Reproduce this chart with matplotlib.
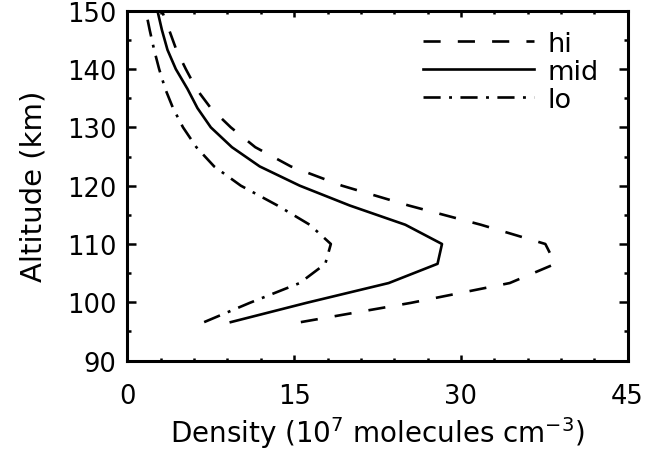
import matplotlib
matplotlib.use("Agg")
import matplotlib.pyplot as plt
from matplotlib.ticker import MultipleLocator

altitude = [96.6, 99.9, 103.3, 106.6, 110.0, 113.3, 116.6, 120.0, 123.3,
            126.6, 130.0, 133.3, 136.6, 140.0, 143.3, 146.7, 150.0]
dens_hi = [15.6, 25.5, 34.4, 38.5, 37.6, 31.8, 25.3, 19.3, 14.7,
           11.5, 9.3, 7.5, 6.2, 5.25, 4.4, 3.75, 3.1]
dens_mid = [9.3, 16.1, 23.5, 27.9, 28.3, 25.0, 20.0, 15.5, 11.9,
            9.4, 7.5, 6.3, 5.4, 4.35, 3.6, 3.1, 2.7]
dens_lo = [6.9, 11.0, 15.5, 17.8, 18.3, 16.4, 13.5, 10.2, 7.8,
           6.2, 5.0, 4.1, 3.4, 2.85, 2.4, 2.0, 1.65]
labels = ["hi", "mid", "lo"]

plt.rcParams['font.family'] = ['DejaVu Sans']
fig = plt.figure(figsize=(6.47, 4.52), dpi=100)
ax = fig.add_axes([0.197, 0.200, 0.773, 0.774])

lw = 1.9
ax.plot(dens_hi, altitude, color='black', lw=lw, linestyle=(0, (6.5, 6.5)), label=labels[0])
ax.plot(dens_mid, altitude, color='black', lw=lw, linestyle='-', label=labels[1])
ax.plot(dens_lo, altitude, color='black', lw=lw, linestyle=(0, (6.5, 3.2, 1.1, 3.2)), label=labels[2])

ax.set_xlim(0, 45)
ax.set_ylim(90, 150)
ax.xaxis.set_major_locator(MultipleLocator(15))
ax.xaxis.set_minor_locator(MultipleLocator(3))
ax.yaxis.set_major_locator(MultipleLocator(10))
ax.yaxis.set_minor_locator(MultipleLocator(5))

for s in ax.spines.values():
    s.set_linewidth(2.2)
ax.tick_params(axis='both', which='both', direction='in', top=True, right=True, width=1.8, labelsize=18.5)
ax.tick_params(axis='y', which='major', length=6.5, pad=8)
ax.tick_params(axis='y', which='minor', length=3.2)
ax.tick_params(axis='x', which='major', length=4.3, pad=16)
ax.tick_params(axis='x', which='minor', length=2.2)

ax.set_xlabel(r'Density (10$^7$ molecules cm$^{-3}$)', fontsize=20, labelpad=4)
ax.set_ylabel('Altitude (km)', fontsize=21, labelpad=14)

leg = ax.legend(loc='upper right', frameon=False, fontsize=19.5, handlelength=4.1,
                handletextpad=0.5, labelspacing=0.08, borderaxespad=0.2,
                bbox_to_anchor=(0.975, 0.99))

fig.savefig('out.png', dpi=100)
